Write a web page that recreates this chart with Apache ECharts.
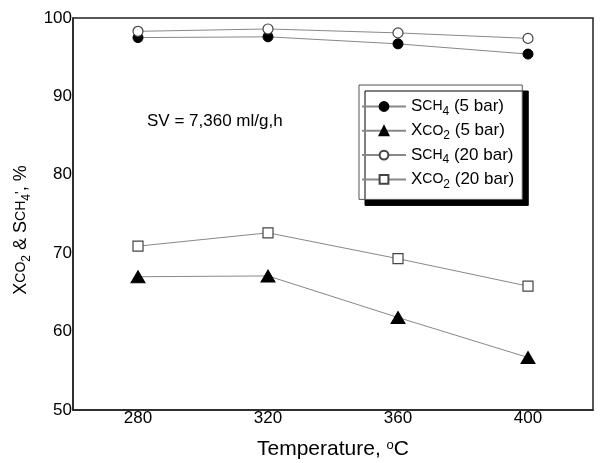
<!DOCTYPE html>
<html>
<head>
<meta charset="utf-8">
<script src="https://cdn.jsdelivr.net/npm/echarts@6/dist/echarts.min.js"></script>
<style>
    html, body { margin: 0; padding: 0; background: #fff; }
    #chart { width: 610px; height: 463px; }
</style>
</head>
<body>
<div id="chart"></div>
<script>
var temps = [280, 320, 360, 400];
var xTicks = [280, 320, 360, 400];
var sch4Bar5 = [97.5, 97.6, 96.7, 95.4];
var xco2Bar5 = [67.0, 67.1, 61.8, 56.7];
var sch4Bar20 = [98.3, 98.6, 98.1, 97.4];
var xco2Bar20 = [70.9, 72.6, 69.3, 65.8];

var fontName = "Liberation Sans, Arial, sans-serif";
var lineColor = "#888888";

function pairs(xs, ys) {
    var out = [];
    for (var i = 0; i < xs.length; i++) {
        out.push([xs[i], ys[i]]);
    }
    return out;
}

var chart = echarts.init(document.getElementById('chart'));

var legendRich = {
    big: { fontSize: 17, fontFamily: fontName, color: '#000', lineHeight: 22, verticalAlign: 'middle' },
    sm: { fontSize: 14, fontFamily: fontName, color: '#000', lineHeight: 22, verticalAlign: 'middle' },
    sub: { fontSize: 12, fontFamily: fontName, color: '#000', lineHeight: 12, verticalAlign: 'bottom' }
};

var legendNames = {
    's5': '{big|S}{sm|CH}{sub|4}{big| (5 bar)}',
    'x5': '{big|X}{sm|CO}{sub|2}{big| (5 bar)}',
    's20': '{big|S}{sm|CH}{sub|4}{big| (20 bar)}',
    'x20': '{big|X}{sm|CO}{sub|2}{big| (20 bar)}'
};

var option = {
    animation: false,
    backgroundColor: '#ffffff',
    grid: {
        left: 73,
        right: 17,
        top: 18,
        bottom: 53,
        outerBoundsMode: 'none',
        show: true,
        borderColor: '#222222',
        borderWidth: 1.5,
        backgroundColor: 'transparent'
    },
    legend: {
        orient: 'vertical',
        left: 359,
        top: 85,
        padding: [13, 8, 9, 2],
        itemWidth: 44,
        itemHeight: 11,
        itemGap: 4.8,
        backgroundColor: '#ffffff',
        borderColor: '#555555',
        borderWidth: 1,
        borderRadius: 0,
        shadowColor: '#000000',
        shadowBlur: 0,
        shadowOffsetX: 6,
        shadowOffsetY: 6,
        data: ['s5', 'x5', 's20', 'x20'],
        formatter: function (name) { return legendNames[name]; },
        textStyle: { rich: legendRich, padding: [0, 0, 0, 0] }
    },
    xAxis: {
        type: 'value',
        min: 260,
        max: 420,
        name: 'Temperature, {sup|o}C',
        nameLocation: 'middle',
        nameGap: 29,
        nameTextStyle: {
            fontSize: 21,
            fontFamily: fontName,
            color: '#000',
            rich: {
                sup: { fontSize: 13, fontFamily: fontName, color: '#000', verticalAlign: 'top', lineHeight: 12 }
            }
        },
        axisLine: { show: true, lineStyle: { color: '#222222', width: 1.5 } },
        axisTick: { show: false },
        splitLine: { show: false },
        axisLabel: {
            customValues: xTicks,
            margin: 0,
            fontSize: 17,
            fontFamily: fontName,
            color: '#000'
        }
    },
    yAxis: {
        type: 'value',
        min: 50,
        max: 100,
        interval: 10,
        name: '{big|X}{sm|CO}{sub|2}{big| & S}{sm|CH}{sub|4}{sm|\'}{big|, %}',
        nameLocation: 'middle',
        nameRotate: 90,
        nameGap: 31,
        nameTextStyle: {
            padding: [0, 32, 0, 0],
            rich: {
                big: { fontSize: 18, fontFamily: fontName, color: '#000', lineHeight: 24, verticalAlign: 'middle' },
                sm: { fontSize: 14, fontFamily: fontName, color: '#000', lineHeight: 24, verticalAlign: 'middle' },
                sub: { fontSize: 12, fontFamily: fontName, color: '#000', lineHeight: 12, verticalAlign: 'bottom' }
            }
        },
        axisLine: { show: true, lineStyle: { color: '#222222', width: 1.5 } },
        axisTick: { show: false },
        splitLine: { show: false },
        axisLabel: {
            margin: 1,
            fontSize: 17,
            fontFamily: fontName,
            color: '#000'
        }
    },
    graphic: [{
        type: 'text',
        left: 147,
        top: 113,
        style: {
            text: 'SV = 7,360 ml/g,h',
            font: '17px ' + fontName,
            fill: '#000'
        }
    }],
    series: [
        {
            name: 's5',
            type: 'line',
            data: pairs(temps, sch4Bar5),
            symbol: 'circle',
            symbolSize: 10,
            itemStyle: { color: '#000000', borderColor: '#000000', borderWidth: 1 },
            lineStyle: { color: lineColor, width: 1 },
            z: 3
        },
        {
            name: 'x5',
            type: 'line',
            data: pairs(temps, xco2Bar5),
            symbol: 'triangle',
            symbolSize: [14, 12],
            itemStyle: { color: '#000000', borderColor: '#000000', borderWidth: 1 },
            lineStyle: { color: lineColor, width: 1 },
            z: 3
        },
        {
            name: 's20',
            type: 'line',
            data: pairs(temps, sch4Bar20),
            symbol: 'circle',
            symbolSize: 10,
            itemStyle: { color: '#ffffff', borderColor: '#444444', borderWidth: 1.2 },
            lineStyle: { color: lineColor, width: 1 },
            z: 4
        },
        {
            name: 'x20',
            type: 'line',
            data: pairs(temps, xco2Bar20),
            symbol: 'rect',
            symbolSize: 10,
            itemStyle: { color: '#ffffff', borderColor: '#444444', borderWidth: 1.2 },
            lineStyle: { color: lineColor, width: 1 },
            z: 3
        }
    ]
};

chart.setOption(option);
</script>
</body>
</html>
